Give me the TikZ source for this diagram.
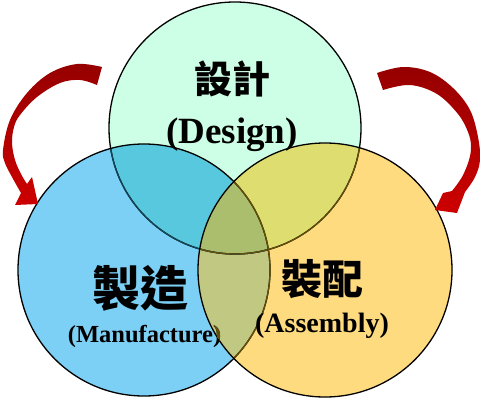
\documentclass[tikz,border=0pt]{standalone}
\usepackage{fontspec}
\setmainfont{Liberation Serif}
\newfontfamily\cjk{Noto Sans CJK TC}
\definecolor{cG}{RGB}{204,255,230}
\definecolor{cB}{RGB}{125,208,245}
\definecolor{cY}{RGB}{255,219,128}
\definecolor{cGB}{RGB}{88,200,222}
\definecolor{cGY}{RGB}{222,222,112}
\definecolor{cBY}{RGB}{192,200,130}
\definecolor{cGBY}{RGB}{170,190,110}
\definecolor{lineTeal}{RGB}{20,70,90}
\definecolor{lineOlive}{RGB}{100,80,10}
\definecolor{arrowTop}{RGB}{150,0,0}
\definecolor{arrowBot}{RGB}{205,0,0}
\begin{document}
\begin{tikzpicture}[x=1pt,y=-1pt,
  ring/.style={line width=1.3pt},
  cjklbl/.style={anchor=base,inner sep=0pt,font=\cjk\bfseries},
  latlbl/.style={anchor=base,inner sep=0pt},
  redarrow/.style={top color=arrowTop,bottom color=arrowBot}]
\useasboundingbox (0,0) rectangle (481,401);
\def\Gc{(235,128) circle[radius=126pt]}
\def\Bc{(144,270) circle[radius=126pt]}
\def\Yc{(325,270) circle[radius=127pt]}
% fills
\fill[cG] \Gc;
\fill[cB] \Bc;
\fill[cY] \Yc;
\begin{scope}\clip \Gc; \fill[cGB] \Bc; \fill[cGY] \Yc; \end{scope}
\begin{scope}\clip \Bc; \fill[cBY] \Yc;
  \begin{scope}\clip \Gc; \fill[cGBY] \Yc; \end{scope}
\end{scope}
% outlines
\draw[ring] \Gc;
\begin{scope}\clip \Bc; \draw[ring,lineTeal] \Gc; \end{scope}
\begin{scope}\clip \Yc; \draw[ring,lineOlive] \Gc; \end{scope}
\draw[ring] \Bc;
\begin{scope}\clip \Yc; \draw[ring,lineOlive] \Bc; \end{scope}
\draw[ring] \Yc;
% labels
\node[cjklbl,font=\cjk\bfseries\fontsize{38}{38}\selectfont] (d1) at (232,94) {設計};
\node[latlbl,font=\bfseries\fontsize{37}{37}\selectfont] (d2) at (232,143) {(Design)};
\node[cjklbl,font=\cjk\bfseries\fontsize{48}{48}\selectfont] (m1) at (140,306) {製造};
\node[latlbl,font=\bfseries\fontsize{24.5}{24.5}\selectfont] (m2) at (144.5,342) {(Manufacture)};
\begin{scope}\clip \Yc;
  \node[latlbl,font=\bfseries\fontsize{24.5}{24.5}\selectfont,text=lineOlive] (m3) at (144.5,342) {(Manufacture)};
\end{scope}
\node[cjklbl,font=\cjk\bfseries\fontsize{41}{41}\selectfont] (a1) at (322,294) {裝配};
\node[latlbl,font=\bfseries\fontsize{28}{28}\selectfont] (a2) at (322,332) {(Assembly)};
% arrows
\shade[redarrow] plot[smooth,tension=0.6] coordinates {(102,67) (77,64) (50,73) (27,93) (10,120) (3,150) (5,163) (12,177) (21,193)}
  -- (15,205) -- (38,204) -- (32,177)
  -- plot[smooth,tension=0.6] coordinates {(27,184) (21,174) (15,160) (12,143) (14,127) (20,115) (37,97) (60,83) (80,80) (97,85)} -- cycle;
\shade[redarrow] plot[smooth,tension=0.6] coordinates {(377,73) (403,67) (430,72) (453,88) (470,110) (478,137) (480,160) (475,177) (465,192)}
  -- (457,213) -- (435,210) -- (443,193)
  -- plot[smooth,tension=0.6] coordinates {(452,191) (462,177) (469,160) (471,146) (468,132) (458,114) (437,94) (410,85) (383,90)} -- cycle;
\end{tikzpicture}
\end{document}
